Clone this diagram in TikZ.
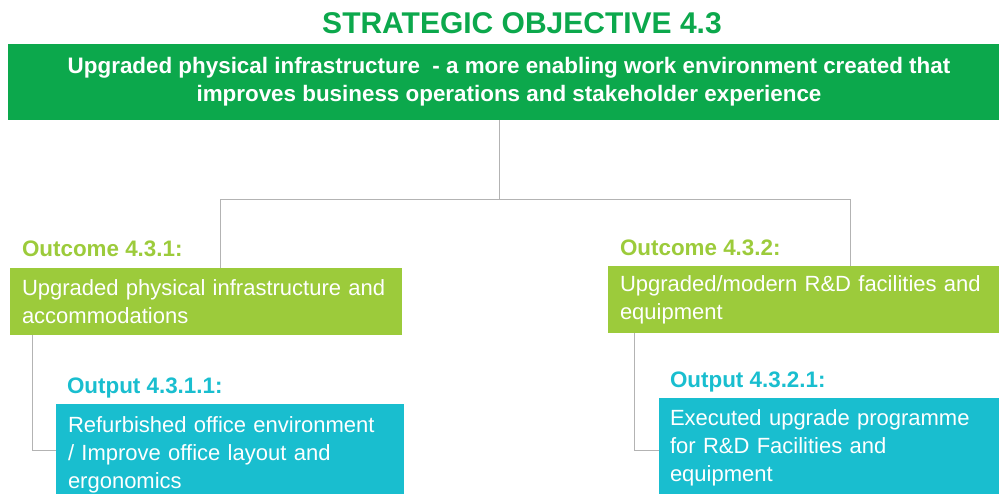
\documentclass[tikz,border=0pt]{standalone}
\usepackage{fontspec}
\setmainfont{Liberation Sans}
\definecolor{objgreen}{HTML}{0CA84C}
\definecolor{outgreen}{HTML}{9CCB3B}
\definecolor{outcyan}{HTML}{19BECF}
\definecolor{linkgray}{HTML}{B3B3B3}

\begin{document}
\begin{tikzpicture}[x=1pt, y=-1pt]
        \tikzstyle{every node}=[inner sep=0pt, outer sep=0pt]
        \tikzstyle{box}=[anchor=north west, text=white, inner xsep=12pt, align=left, font=\fontsize{22}{27.7}\selectfont]
        \tikzstyle{head}=[anchor=base west, font=\fontsize{22.4}{26}\selectfont\bfseries]
        \tikzstyle{link}=[draw=linkgray, line width=1pt]

        \clip (0,0) rectangle (999,493);

        \node (title) [anchor=base, text=objgreen, font=\fontsize{30}{34}\selectfont\bfseries] at (522,33) {STRATEGIC OBJECTIVE 4.3};
        \node (obj) [box, fill=objgreen, minimum width=1002pt, minimum height=76pt, align=center, font=\fontsize{22.4}{28}\selectfont\bfseries] at (8,44)
            {Upgraded physical infrastructure\ \ - a more enabling work environment created that\\ improves business operations and stakeholder experience};

        \node (h1) [head, text=outgreen] at (22,256) {Outcome 4.3.1:};
        \node (oc1) [box, fill=outgreen, text width=368pt, minimum height=67pt] at (10,268)
            {Upgraded physical infrastructure and\\ accommodations};
        \node (h3) [head, text=outcyan] at (67,393) {Output 4.3.1.1:};
        \node (op1) [box, fill=outcyan, text width=324pt, minimum height=102pt] at (56,404)
            {Refurbished office environment\\ / Improve office layout and\\ ergonomics};

        \node (h2) [head, text=outgreen] at (620,255) {Outcome 4.3.2:};
        \node (oc2) [box, fill=outgreen, text width=380pt, minimum height=67pt] at (608,266)
            {Upgraded/modern R\&D facilities and\\ equipment};
        \node (h4) [head, text=outcyan] at (670,387) {Output 4.3.2.1:};
        \node (op2) [box, fill=outcyan, inner xsep=11pt, text width=330pt, minimum height=100pt] at (659,398)
            {Executed upgrade programme\\ for R\&D Facilities and\\ equipment};

        \coordinate (hub) at (499,199);
        \coordinate (l) at (220,199);
        \coordinate (r) at (850,199);
        \coordinate (k1) at (32,450);
        \coordinate (k2) at (634,450);

        \draw[link] (hub |- obj.south) -- (hub);
        \draw[link] (l |- oc1.north) -- (l) -- (r) -- (r |- oc2.north);
        \draw[link] (k1 |- oc1.south) -- (k1) -- (k1 -| op1.west);
        \draw[link] (k2 |- oc2.south) -- (k2) -- (k2 -| op2.west);
\end{tikzpicture}
\end{document}
